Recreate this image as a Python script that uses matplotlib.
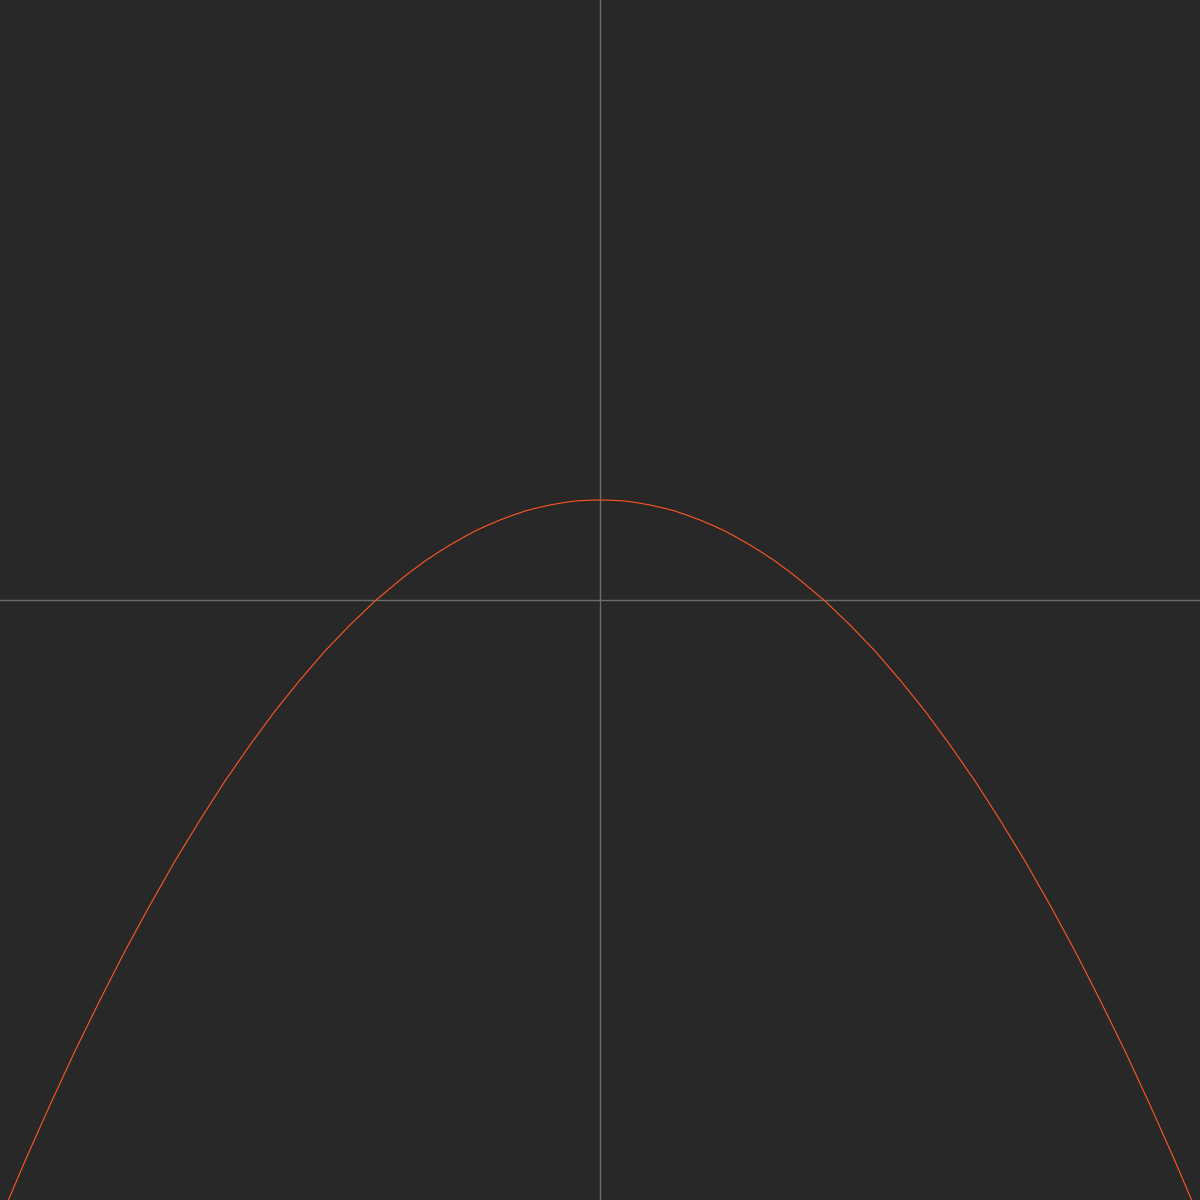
import matplotlib
matplotlib.use("Agg")
import matplotlib.pyplot as plt

# Points (x, y), axes span -6..6 on both sides
x_vals = [-6.0, -5.75, -5.5, -5.25, -5.0, -4.75, -4.5, -4.25, -4.0, -3.75, -3.5, -3.25,
          -3.0, -2.75, -2.5, -2.25, -2.0, -1.875, -1.75, -1.625, -1.5, -1.375, -1.25, -1.125,
          -1.0, -0.875, -0.75, -0.625, -0.5, -0.375, -0.25, -0.125,
          0.0, 0.125, 0.25, 0.375, 0.5, 0.625, 0.75, 0.875,
          1.0, 1.125, 1.25, 1.375, 1.5, 1.625, 1.75, 1.875, 2.0, 2.25, 2.5, 2.75,
          3.0, 3.25, 3.5, 3.75, 4.0, 4.25, 4.5, 4.75, 5.0, 5.25, 5.5, 5.75, 6.0]
y_vals = [-6.2, -5.61, -5.05, -4.51, -4.0, -3.51, -3.05, -2.61, -2.2, -1.81, -1.45, -1.11,
          -0.8, -0.51, -0.25, -0.01, 0.2, 0.297, 0.39, 0.472, 0.55, 0.622, 0.69, 0.747,
          0.8, 0.847, 0.89, 0.922, 0.95, 0.972, 0.99, 0.997,
          1.0, 0.997, 0.99, 0.972, 0.95, 0.922, 0.89, 0.847,
          0.8, 0.747, 0.69, 0.622, 0.55, 0.472, 0.39, 0.297, 0.2, -0.01, -0.25, -0.51,
          -0.8, -1.11, -1.45, -1.81, -2.2, -2.61, -3.05, -3.51, -4.0, -4.51, -5.05, -5.61, -6.2]

bg = "#282828"
fig = plt.figure(figsize=(12, 12), dpi=100, facecolor=bg)
ax = fig.add_axes([0, 0, 1, 1], facecolor=bg)

# Coordinate axes
ax.axhline(0, color="#6c6c6c", lw=1.0)
ax.axvline(0, color="#6c6c6c", lw=1.0)

ax.plot(x_vals, y_vals, color="#ff5722", lw=0.8)

ax.set_xlim(-6, 6)
ax.set_ylim(-6, 6)
ax.axis("off")

fig.savefig("out.png", dpi=100, facecolor=bg)
